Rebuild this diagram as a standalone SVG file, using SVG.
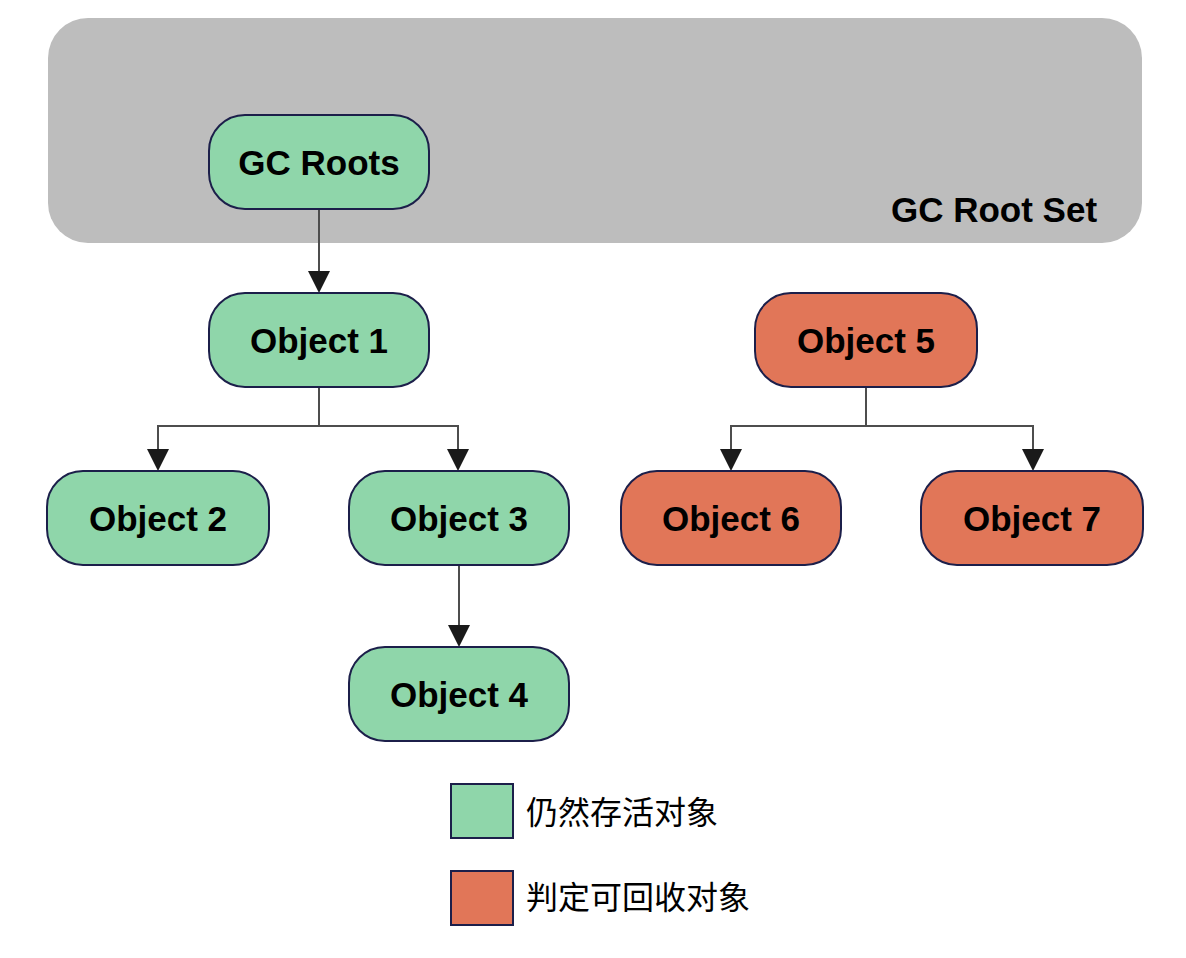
<svg xmlns="http://www.w3.org/2000/svg" width="1186" height="958" viewBox="0 0 1186 958">
<style>
.node rect{stroke:#1c1f4a;stroke-width:2}
.live rect{fill:#8fd6aa}
.dead rect{fill:#e17658}
.lbl{font-family:"Liberation Sans",Arial,sans-serif;font-weight:bold;font-size:35px;fill:#000;text-anchor:middle}
.conn{fill:none;stroke:#4d4d4d;stroke-width:2}
.leg{font-family:"Noto Sans CJK SC","Noto Sans",sans-serif;font-size:32px;fill:#000}
</style>
<rect width="1186" height="958" fill="#fff"/>
<g id="rootset">
<rect x="48" y="18" width="1094" height="225" rx="40" fill="#bdbdbd"/>
<text x="994" y="222" class="lbl" font-size="33">GC Root Set</text>
</g>
<g id="connectors">
<path class="conn" d="M319,209 V271" />
<path d="M308,271 L330,271 L319,293 Z" fill="#1a1a1a"/>
<path class="conn" d="M319,387 V426 H158 V449 M319,426 H458 V449"/>
<path d="M147,449 L169,449 L158,471 Z" fill="#1a1a1a"/>
<path d="M447,449 L469,449 L458,471 Z" fill="#1a1a1a"/>
<path class="conn" d="M459,565 V625"/>
<path d="M448,625 L470,625 L459,647 Z" fill="#1a1a1a"/>
<path class="conn" d="M866,387 V426 H731 V449 M866,426 H1033 V449"/>
<path d="M720,449 L742,449 L731,471 Z" fill="#1a1a1a"/>
<path d="M1022,449 L1044,449 L1033,471 Z" fill="#1a1a1a"/>
</g>
<g id="gcroots" class="node live"><rect x="209" y="115" width="220" height="94" rx="36"/><text x="319" y="175" class="lbl">GC Roots</text></g>
<g id="obj1" class="node live"><rect x="209" y="293" width="220" height="94" rx="36"/><text x="319" y="353" class="lbl">Object 1</text></g>
<g id="obj2" class="node live"><rect x="47" y="471" width="222" height="94" rx="36"/><text x="158" y="531" class="lbl">Object 2</text></g>
<g id="obj3" class="node live"><rect x="349" y="471" width="220" height="94" rx="36"/><text x="459" y="531" class="lbl">Object 3</text></g>
<g id="obj4" class="node live"><rect x="349" y="647" width="220" height="94" rx="36"/><text x="459" y="707" class="lbl">Object 4</text></g>
<g id="obj5" class="node dead"><rect x="755" y="293" width="222" height="94" rx="36"/><text x="866" y="353" class="lbl">Object 5</text></g>
<g id="obj6" class="node dead"><rect x="621" y="471" width="220" height="94" rx="36"/><text x="731" y="531" class="lbl">Object 6</text></g>
<g id="obj7" class="node dead"><rect x="921" y="471" width="222" height="94" rx="36"/><text x="1032" y="531" class="lbl">Object 7</text></g>
<g id="legend-live" class="node live"><rect x="451" y="784" width="62" height="54"/><text x="526" y="824" class="leg">仍然存活对象</text></g>
<g id="legend-dead" class="node dead"><rect x="451" y="871" width="62" height="54"/><text x="526" y="909" class="leg">判定可回收对象</text></g>
</svg>
